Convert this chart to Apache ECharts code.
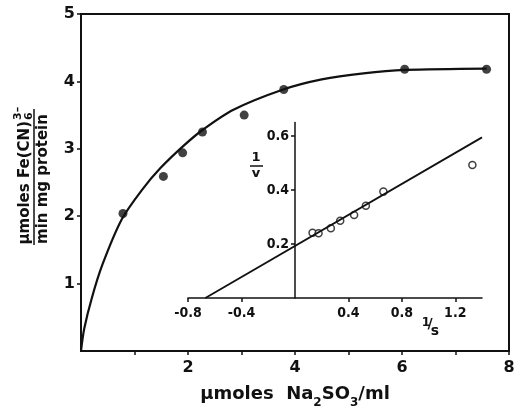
<!DOCTYPE html>
<html lang="en">
<head>
    <meta charset="UTF-8">
    <title>sulfite oxidation</title>
    <script src="https://cdn.jsdelivr.net/npm/echarts@6/dist/echarts.min.js"></script>
    <style type="text/css">
        body{
            margin: 0px;
            padding: 0px;
            background: #fff;
        }
        #chart{
            width: 523px;
            height: 419px;
        }
    </style>
</head>
<body>
<div id="chart"></div>
<script type="text/javascript">
    // main plot: rate vs sulfite
    var mainX = [0.785, 1.54, 1.90, 2.27, 3.05, 3.79, 6.05, 7.58];
    var mainY = [2.04, 2.59, 2.94, 3.25, 3.50, 3.88, 4.18, 4.18];
    // hand drawn curve
    var curveX = [0, 0.06, 0.2, 0.4, 0.76, 1.13, 1.48, 1.91, 2.29, 2.85, 3.78, 4.5, 5.28, 6.06, 7.58];
    var curveY = [0, 0.33, 0.78, 1.28, 1.95, 2.38, 2.71, 3.04, 3.29, 3.58, 3.88, 4.03, 4.12, 4.17, 4.19];
    var mainXTicks = [1, 2, 3, 4, 5, 6, 7, 8];
    var mainXLabels = [2, 4, 6, 8];
    var mainYTicks = [1, 2, 3, 4, 5];

    // inset: double reciprocal plot
    var invS = [0.132, 0.177, 0.269, 0.339, 0.443, 0.531, 0.662, 1.328];
    var invV = [0.242, 0.240, 0.258, 0.286, 0.307, 0.342, 0.394, 0.493];
    var fitS = [-0.67, 1.4];
    var fitV = [0, 0.595];
    var insetXTicks = [-0.8, -0.4, 0.4, 0.8, 1.2];
    var insetYTicks = [0.2, 0.4, 0.6];

    function pairs(xs, ys) {
        var out = [];
        for (var i = 0; i < xs.length; i++) {
            out.push([xs[i], ys[i]]);
        }
        return out;
    }

    var font = 'DejaVu Sans';
    var black = '#111';

    var chart = echarts.init(document.getElementById('chart'));
    chart.setOption({
        animation: false,
        backgroundColor: '#fff',
        grid: [
            {left: 81, top: 14, width: 428, height: 337, show: true,
             borderColor: black, borderWidth: 2, backgroundColor: 'transparent'},
            {left: 188, top: 122.5, width: 294, height: 175.5}
        ],
        xAxis: [
            {
                type: 'value', gridIndex: 0, min: 0, max: 8, interval: 1,
                axisLine: {lineStyle: {color: black, width: 2}},
                axisTick: {length: 4, customValues: mainXTicks, lineStyle: {color: black, width: 1.5}},
                axisLabel: {customValues: mainXLabels, margin: 9, color: black,
                    fontFamily: font, fontWeight: 'bold', fontSize: 16},
                splitLine: {show: false},
                name: '{a|µmoles  Na}{s|2}{a|SO}{s|3}{a|/ml}',
                nameLocation: 'middle',
                nameGap: 34,
                nameTextStyle: {
                    rich: {
                        a: {fontFamily: font, fontWeight: 'bold', fontSize: 18, color: black,
                            lineHeight: 24, verticalAlign: 'top'},
                        s: {fontFamily: font, fontWeight: 'bold', fontSize: 12, color: black,
                            lineHeight: 14, verticalAlign: 'bottom'}
                    }
                }
            },
            {
                type: 'value', gridIndex: 1, min: -0.8, max: 1.4, interval: 0.4,
                axisLine: {lineStyle: {color: black, width: 1.5}},
                axisTick: {length: 4, customValues: insetXTicks, lineStyle: {color: black, width: 1.5}},
                axisLabel: {customValues: insetXTicks, margin: 8, color: black,
                    fontFamily: 'DejaVu Sans Condensed', fontWeight: 'bold', fontSize: 14},
                splitLine: {show: false}
            }
        ],
        yAxis: [
            {
                type: 'value', gridIndex: 0, min: 0, max: 5, interval: 1,
                axisLine: {lineStyle: {color: black, width: 2}},
                axisTick: {length: 4, customValues: mainYTicks, lineStyle: {color: black, width: 1.5}},
                axisLabel: {customValues: mainYTicks, margin: 6, color: black,
                    fontFamily: font, fontWeight: 'bold', fontSize: 16},
                splitLine: {show: false}
            },
            {
                // vertical inset axis sits at 1/s = 0, i.e. 0.8 * 294 / 2.2 px right of the grid edge
                type: 'value', gridIndex: 1, min: 0, max: 0.65, interval: 0.2,
                offset: -107,
                axisLine: {onZero: false, lineStyle: {color: black, width: 1.5}},
                axisTick: {length: 4, customValues: insetYTicks, lineStyle: {color: black, width: 1.5}},
                axisLabel: {customValues: insetYTicks, margin: 6, color: black,
                    fontFamily: 'DejaVu Sans Condensed', fontWeight: 'bold', fontSize: 14},
                splitLine: {show: false}
            }
        ],
        series: [
            {
                type: 'line', xAxisIndex: 0, yAxisIndex: 0,
                data: pairs(curveX, curveY),
                smooth: 0.3, showSymbol: false,
                lineStyle: {color: black, width: 2.2}
            },
            {
                type: 'scatter', xAxisIndex: 0, yAxisIndex: 0,
                data: pairs(mainX, mainY),
                symbol: 'circle', symbolSize: 9,
                itemStyle: {color: black}
            },
            {
                type: 'line', xAxisIndex: 1, yAxisIndex: 1,
                data: pairs(fitS, fitV),
                showSymbol: false,
                lineStyle: {color: black, width: 1.8}
            },
            {
                type: 'scatter', xAxisIndex: 1, yAxisIndex: 1,
                data: pairs(invS, invV),
                symbol: 'circle', symbolSize: 7,
                itemStyle: {color: '#fff', borderColor: black, borderWidth: 1.5}
            }
        ],
        graphic: [
            // y axis title: fraction turned on its side
            {
                type: 'group', x: 34, y: 179, rotation: Math.PI / 2,
                children: [
                    {type: 'text', x: 58, y: -1, style: {text: 'µmoles Fe(CN)', align: 'right', verticalAlign: 'bottom',
                        font: 'bold 15px "DejaVu Sans"', fill: black}},
                    {type: 'text', x: 59, y: 1, style: {text: '6', align: 'left', verticalAlign: 'bottom',
                        font: 'bold 11px "DejaVu Sans"', fill: black}},
                    {type: 'text', x: 59, y: -10, style: {text: '3–', align: 'left', verticalAlign: 'bottom',
                        font: 'bold 11px "DejaVu Sans"', fill: black}},
                    {type: 'line', shape: {x1: -66, y1: 0, x2: 70, y2: 0}, style: {stroke: black, lineWidth: 1.5}},
                    {type: 'text', x: 0, y: 2, style: {text: 'min mg protein', align: 'center', verticalAlign: 'top',
                        font: 'bold 15px "DejaVu Sans"', fill: black}}
                ]
            },
            // 1/v label of the inset
            {type: 'text', x: 256, y: 164, style: {text: '1', align: 'center', verticalAlign: 'bottom',
                font: 'bold 13px "DejaVu Sans"', fill: black}},
            {type: 'line', shape: {x1: 250, y1: 166, x2: 263, y2: 166}, style: {stroke: black, lineWidth: 1.5}},
            {type: 'text', x: 256, y: 167, style: {text: 'v', align: 'center', verticalAlign: 'top',
                font: 'bold 13px "DejaVu Sans"', fill: black}},
            // 1/s label of the inset
            {type: 'text', x: 426, y: 329, style: {text: '1', align: 'center', verticalAlign: 'bottom',
                font: 'bold 12px "DejaVu Sans"', fill: black}},
            {type: 'text', x: 430, y: 331, style: {text: '/', align: 'center', verticalAlign: 'bottom',
                font: 'bold 14px "DejaVu Sans"', fill: black}},
            {type: 'text', x: 435, y: 338, style: {text: 's', align: 'center', verticalAlign: 'bottom',
                font: 'bold 14px "DejaVu Sans"', fill: black}}
        ]
    });
</script>
</body>
</html>
